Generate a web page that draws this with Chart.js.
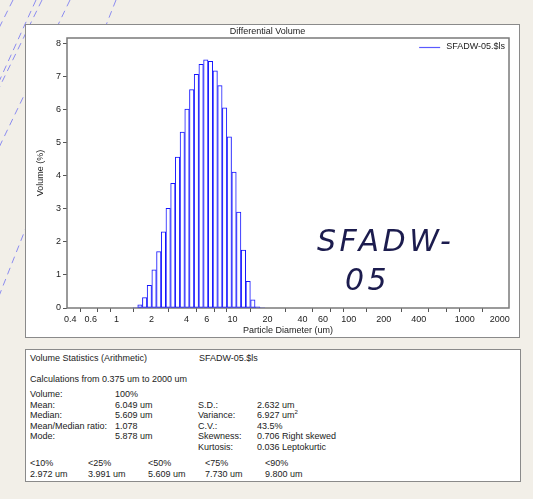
<!DOCTYPE html>
<html>
<head>
<meta charset="utf-8">
<script src="https://cdn.jsdelivr.net/npm/chart.js@4.4.0/dist/chart.umd.min.js"></script>
<style>
  body { margin:0; background:#f2efe8; font-family:"Liberation Sans", Arial, sans-serif; }
  #deco { position:absolute; left:0; top:0; }
  #plotPanel { position:absolute; left:25px; top:24px; width:495px; height:314px; box-sizing:border-box; background:#fff; border:1px solid #8a8a8a; }
  #statsPanel { position:absolute; left:25px; top:349px; width:496px; height:133px; box-sizing:border-box; background:#fff; border:1px solid #8a8a8a; font-size:9px; color:#222; }
  #statsPanel span { position:absolute; white-space:nowrap; line-height:9px; }
  sup { font-size:6px; vertical-align:4px; line-height:0; }
</style>
</head>
<body>
<svg id="deco" width="533" height="499">
  <g stroke="#8c8cf0" stroke-width="1" stroke-dasharray="7 5" fill="none">
    <line x1="13" y1="0" x2="-20" y2="66"/>
    <line x1="36" y1="0" x2="-100" y2="300"/>
    <line x1="42" y1="0" x2="-80" y2="250"/>
    <line x1="70" y1="0" x2="-60" y2="270"/>
    <line x1="116" y1="0" x2="-50" y2="420"/>
  </g>
</svg>
<div id="plotPanel"><canvas id="chart" width="493" height="312"></canvas></div>
<div id="statsPanel"></div>
<script>
///////////////////////////////// DATA /////////////////////////////////////

// Channel centres (um), log spaced channels
const binCenters = [1.451, 1.593, 1.748, 1.919, 2.107, 2.313, 2.539, 2.787, 3.060, 3.359,
                    3.687, 4.048, 4.444, 4.878, 5.355, 5.878, 6.453, 7.084, 7.776, 8.536,
                    9.371, 10.29, 11.29, 12.40, 13.61, 14.94, 16.40, 18.00];
// Differential volume (%)
const volumePct = [0.02, 0.10, 0.32, 0.69, 1.16, 1.71, 2.31, 3.02, 3.78, 4.58,
                   5.33, 6.03, 6.62, 7.08, 7.39, 7.52, 7.48, 7.19, 6.74, 6.07,
                   5.19, 4.12, 2.91, 1.76, 0.81, 0.25, 0.04, 0.01];

const xTickValues = [0.4, 0.6, 0.8, 1, 2, 4, 6, 8, 10, 20, 40, 60, 80, 100, 200, 400, 600, 800, 1000, 2000];
const xTickLabels = ['0.4', '0.6', '', '1', '2', '4', '6', '', '10', '20', '40', '60', '', '100', '200', '400', '', '', '1000', '2000'];
const yTickValues = [0, 1, 2, 3, 4, 5, 6, 7, 8];

const sampleName = 'SFADW-05.$ls';
const noteLines = ['SFADW-', '05'];

// Stats table text
const statHeader = ['Volume Statistics (Arithmetic)', sampleName];
const statRange = 'Calculations from 0.375 um to 2000 um';
const statLeftLabels = ['Volume:', 'Mean:', 'Median:', 'Mean/Median ratio:', 'Mode:'];
const statLeftValues = ['100%', '6.049 um', '5.609 um', '1.078', '5.878 um'];
const statRightLabels = ['', 'S.D.:', 'Variance:', 'C.V.:', 'Skewness:', 'Kurtosis:'];
const statRightValues = ['', '2.632 um', '6.927 um<sup>2</sup>', '43.5%', '0.706 Right skewed', '0.036 Leptokurtic'];
const pctLabels = ['<10%', '<25%', '<50%', '<75%', '<90%'];
const pctValues = ['2.972 um', '3.991 um', '5.609 um', '7.730 um', '9.800 um'];

///////////////////////////////// STATS PANEL /////////////////////////////////////

function put(parent, html, x, y){
  const s = document.createElement('span');
  s.innerHTML = html.replace(/<(?!\/?sup)/g, '&lt;');
  s.style.left = x + 'px';
  s.style.top = y + 'px';
  parent.appendChild(s);
}

const panel = document.getElementById('statsPanel');
put(panel, statHeader[0], 4, 4);
put(panel, statHeader[1], 173, 4);
put(panel, statRange, 4, 25);
statLeftLabels.forEach((t, i) => put(panel, t, 4, 40 + i * 10.6));
statLeftValues.forEach((t, i) => put(panel, t, 89, 40 + i * 10.6));
statRightLabels.forEach((t, i) => put(panel, t, 172, 40 + i * 10.6));
statRightValues.forEach((t, i) => put(panel, t, 231, 40 + i * 10.6));
const pctX = [4, 62, 122, 179, 239];
pctLabels.forEach((t, i) => put(panel, t, pctX[i], 109));
pctValues.forEach((t, i) => put(panel, t, pctX[i], 120));

///////////////////////////////// CHART /////////////////////////////////////

Chart.defaults.font.family = '"Liberation Sans", Arial, sans-serif';
Chart.defaults.color = '#222';

// Box around the plot area
const framePlugin = {
  id: 'frame',
  beforeDatasetsDraw(chart){
    const a = chart.chartArea, ctx = chart.ctx;
    ctx.save();
    ctx.strokeStyle = '#7a7a7a';
    ctx.lineWidth = 1.5;
    ctx.strokeRect(a.left, a.top, a.right - a.left, a.bottom - a.top);
    ctx.restore();
  }
};

// Legend inside the plot, top right
const legendPlugin = {
  id: 'insideLegend',
  afterDatasetsDraw(chart){
    const a = chart.chartArea, ctx = chart.ctx, ds = chart.data.datasets[0];
    ctx.save();
    ctx.font = '9px "Liberation Sans", Arial, sans-serif';
    const tw = ctx.measureText(ds.label).width;
    const xText = a.right - 4 - tw;
    const y = Math.round(a.top + 9);
    ctx.strokeStyle = '#5a5aff';
    ctx.lineWidth = 1.2;
    ctx.beginPath();
    ctx.moveTo(xText - 27, y + 0.5);
    ctx.lineTo(xText - 6, y + 0.5);
    ctx.stroke();
    ctx.fillStyle = '#222';
    ctx.textBaseline = 'middle';
    ctx.fillText(ds.label, xText, y);
    ctx.restore();
  }
};

// Handwritten sample note
const notePlugin = {
  id: 'note',
  afterDatasetsDraw(chart){
    const a = chart.chartArea, ctx = chart.ctx;
    ctx.save();
    ctx.fillStyle = '#1c1c4e';
    ctx.font = 'italic 300 30px "DejaVu Sans", sans-serif';
    ctx.letterSpacing = '3.5px';
    ctx.textBaseline = 'alphabetic';
    ctx.fillText(noteLines[0], a.left + 250, a.top + 213);
    ctx.fillText(noteLines[1], a.left + 278, a.top + 252);
    ctx.restore();
  }
};

const config = {
  type: 'bar',
  data: {
    datasets: [{
      label: sampleName,
      data: binCenters.map((x, i) => ({x: x, y: volumePct[i]})),
      backgroundColor: 'rgba(255,255,255,0)',
      borderColor: '#1414ff',
      borderWidth: 0.6,
      borderSkipped: false,
      barPercentage: 1,
      categoryPercentage: 1,
      inflateAmount: 0.2,
    }]
  },
  options: {
    responsive: false,
    animation: false,
    devicePixelRatio: 1,
    layout: { padding: {top: 0, right: 10, bottom: 0, left: 0} },
    scales: {
      x: {
        type: 'logarithmic',
        min: 0.375,
        max: 2400,
        afterBuildTicks: s => { s.ticks = xTickValues.map(v => ({value: v})); },
        afterFit: s => { s.height = 29; },
        grid: { drawOnChartArea: false, drawTicks: true, tickLength: 4, color: '#555' },
        border: { display: false },
        ticks: {
          autoSkip: false, maxRotation: 0, minRotation: 0, padding: 2,
          font: {size: 9},
          callback: (v, i) => xTickLabels[i],
        },
        title: { display: true, text: 'Particle Diameter (um)', font: {size: 9}, padding: {top: 0, bottom: 1} },
      },
      y: {
        type: 'linear',
        min: 0,
        max: 8.18,
        afterBuildTicks: s => { s.ticks = yTickValues.map(v => ({value: v})); },
        afterFit: s => { s.width = 41; },
        grid: { drawOnChartArea: false, drawTicks: true, tickLength: 4, color: '#555' },
        border: { display: false },
        ticks: { padding: 2, font: {size: 9} },
        title: { display: true, text: 'Volume (%)', font: {size: 9}, padding: {top: 9, bottom: 0} },
      }
    },
    plugins: {
      title: {
        display: true,
        text: 'Differential Volume',
        font: {size: 9, weight: 'normal'},
        padding: {top: 1, bottom: 1.2},
      },
      legend: { display: false },
      tooltip: { enabled: false },
    }
  },
  plugins: [framePlugin, legendPlugin, notePlugin],
};

DIFF_VOLUME_CHART = new Chart(document.getElementById('chart'), config);
</script>
</body>
</html>
